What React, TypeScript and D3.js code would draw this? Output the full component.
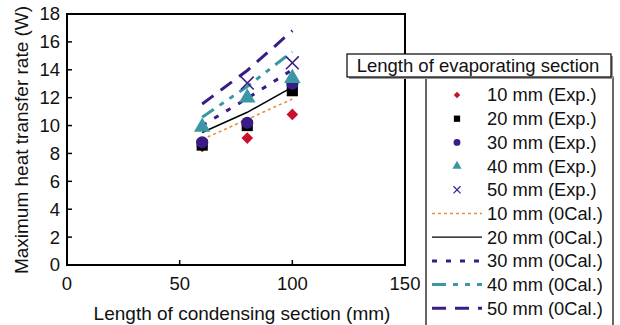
import * as d3 from "d3";

// condensing section lengths (mm)
const condLengths = [60, 80, 100];

// experimental values (W), per evaporating section length
const exp10 = [8.5, 9.1, 10.8];
const exp20 = [8.6, 10.0, 12.5];
const exp30 = [8.8, 10.2, 13.0];
const exp40 = [9.9, 12.0, 13.4];
const exp50X = [80, 100];
const exp50 = [13.05, 14.5];

// calculated values (W)
const cal10 = [9.0, 10.45, 11.9];
const cal20 = [9.5, 10.95, 12.75];
const cal30 = [10.0, 11.95, 14.0];
const cal40 = [10.6, 12.8, 15.3];
const cal50 = [11.55, 13.95, 16.8];

const xTicks = [0, 50, 100, 150];
const yTicks = [0, 2, 4, 6, 8, 10, 12, 14, 16, 18];

const expLabels = ["10 mm (Exp.)", "20 mm (Exp.)", "30 mm (Exp.)", "40 mm (Exp.)", "50 mm (Exp.)"];
const calLabels = ["10 mm (0Cal.)", "20 mm (0Cal.)", "30 mm (0Cal.)", "40 mm (0Cal.)", "50 mm (0Cal.)"];

const RED = "#c8102e";
const BLACK = "#000";
const PURPLE = "#3a1c86";
const TEAL = "#3a97a3";
const ORANGE = "#e0923c";

const FONT = "'Liberation Sans', Arial, Helvetica, sans-serif";

type Marker = "diamond" | "square" | "circle" | "triangle" | "x";

function markerPath(kind: Marker, s: number) {
  if (kind === "diamond") return d3.symbol().type(d3.symbolDiamond2).size(s * s * 0.55)()!;
  if (kind === "square") return d3.symbol().type(d3.symbolSquare).size(s * s * 0.8)()!;
  if (kind === "circle") return d3.symbol().type(d3.symbolCircle).size(s * s * 0.75)()!;
  if (kind === "triangle") return d3.symbol().type(d3.symbolTriangle).size(s * s * 0.75)()!;
  return d3.symbol().type(d3.symbolTimes).size(s * s * 0.7)()!;
}

export default function App() {
  const W = 620, H = 325;
  const x = d3.scaleLinear().domain([0, 150]).range([67, 405]);
  const y = d3.scaleLinear().domain([0, 18]).range([265, 14]);

  const line = d3.line<[number, number]>().x(d => x(d[0])).y(d => y(d[1]));

  const expSeries: { vals: number[]; xs: number[]; color: string; m: Marker }[] = [
    { vals: exp10, xs: condLengths, color: RED, m: "diamond" },
    { vals: exp20, xs: condLengths, color: BLACK, m: "square" },
    { vals: exp30, xs: condLengths, color: PURPLE, m: "circle" },
    { vals: exp40, xs: condLengths, color: TEAL, m: "triangle" },
    { vals: exp50, xs: exp50X, color: PURPLE, m: "x" },
  ];

  const calSeries = [
    { vals: cal10, color: ORANGE, width: 1.6, dash: "3,3" },
    { vals: cal20, color: BLACK, width: 1.5, dash: "" },
    { vals: cal30, color: PURPLE, width: 3, dash: "5,9" },
    { vals: cal40, color: TEAL, width: 3, dash: "14,7,5,7,5,7" },
    { vals: cal50, color: PURPLE, width: 3, dash: "14,9" },
  ];

  const legendRows = d3.range(10).map(i => 95 + i * 23.7);

  return (
    <svg width={W} height={H} style={{ position: "absolute", left: 0, top: 0, fontFamily: FONT }}>
      <rect width={W} height={H} fill="#fff" />

      {/* calc lines */}
      {calSeries.map((s, i) => (
        <path
          key={"c" + i}
          d={line(condLengths.map((c, j) => [c, s.vals[j]]))!}
          fill="none"
          stroke={s.color}
          strokeWidth={s.width}
          strokeDasharray={s.dash || undefined}
        />
      ))}

      {/* experimental markers */}
      {expSeries.map((s, i) =>
        s.vals.map((v, j) => (
          <path
            key={"e" + i + "-" + j}
            d={markerPath(s.m, 12.5)}
            transform={`translate(${x(s.xs[j])},${y(v)})`}
            fill={s.m === "x" ? "none" : s.color}
            stroke={s.m === "x" ? s.color : "none"}
            strokeWidth={1.5}
          />
        ))
      )}

      {/* frame */}
      <rect x={x(0)} y={y(18)} width={x(150) - x(0)} height={y(0) - y(18)} fill="none" stroke="#000" strokeWidth={2} />

      {/* y ticks */}
      {yTicks.map(t => (
        <g key={"y" + t}>
          {t > 0 && t < 18 && <line x1={x(0)} x2={x(0) + 5} y1={y(t)} y2={y(t)} stroke="#000" strokeWidth={1.5} />}
          <text x={60} y={y(t)} dy="0.35em" textAnchor="end" fontSize={18.5} fill="#111">{t}</text>
        </g>
      ))}

      {/* x ticks */}
      {xTicks.map(t => (
        <g key={"x" + t}>
          {t > 0 && t < 150 && <line x1={x(t)} x2={x(t)} y1={y(0)} y2={y(0) - 5} stroke="#000" strokeWidth={1.5} />}
          <text x={x(t)} y={284} dy="0.35em" textAnchor="middle" fontSize={18.5} fill="#111">{t}</text>
        </g>
      ))}

      <text x={242} y={313} dy="0.35em" textAnchor="middle" fontSize={19} fill="#111">Length of condensing section (mm)</text>
      <text transform="translate(21,140) rotate(-90)" dy="0.35em" textAnchor="middle" fontSize={19} fill="#111">Maximum heat transfer rate (W)</text>

      {/* legend body */}
      <rect x={426} y={77} width={187} height={260} fill="#fff" stroke="#000" strokeWidth={1.2} />
      {expSeries.map((s, i) => (
        <path
          key={"le" + i}
          d={markerPath(s.m, 7)}
          transform={`translate(457,${legendRows[i]})`}
          fill={s.m === "x" ? "none" : s.color}
          stroke={s.m === "x" ? s.color : "none"}
          strokeWidth={1.2}
        />
      ))}
      {calSeries.map((s, i) => (
        <line
          key={"lc" + i}
          x1={432}
          x2={482}
          y1={legendRows[i + 5]}
          y2={legendRows[i + 5]}
          stroke={s.color}
          strokeWidth={i === 0 ? 1.5 : i === 1 ? 1.2 : 3}
          strokeDasharray={s.dash || undefined}
        />
      ))}
      {[...expLabels, ...calLabels].map((l, i) => (
        <text key={"lt" + i} x={487} y={legendRows[i]} dy="0.35em" fontSize={18.3} fill="#111">{l}</text>
      ))}

      {/* legend title */}
      <rect x={349} y={56} width={264} height={23} fill="#999" />
      <rect x={347} y={54} width={264} height={23} fill="#fff" stroke="#000" strokeWidth={1.2} />
      <text x={478} y={66} dy="0.35em" textAnchor="middle" fontSize={18.5} fill="#111">Length of evaporating section</text>
    </svg>
  );
}
